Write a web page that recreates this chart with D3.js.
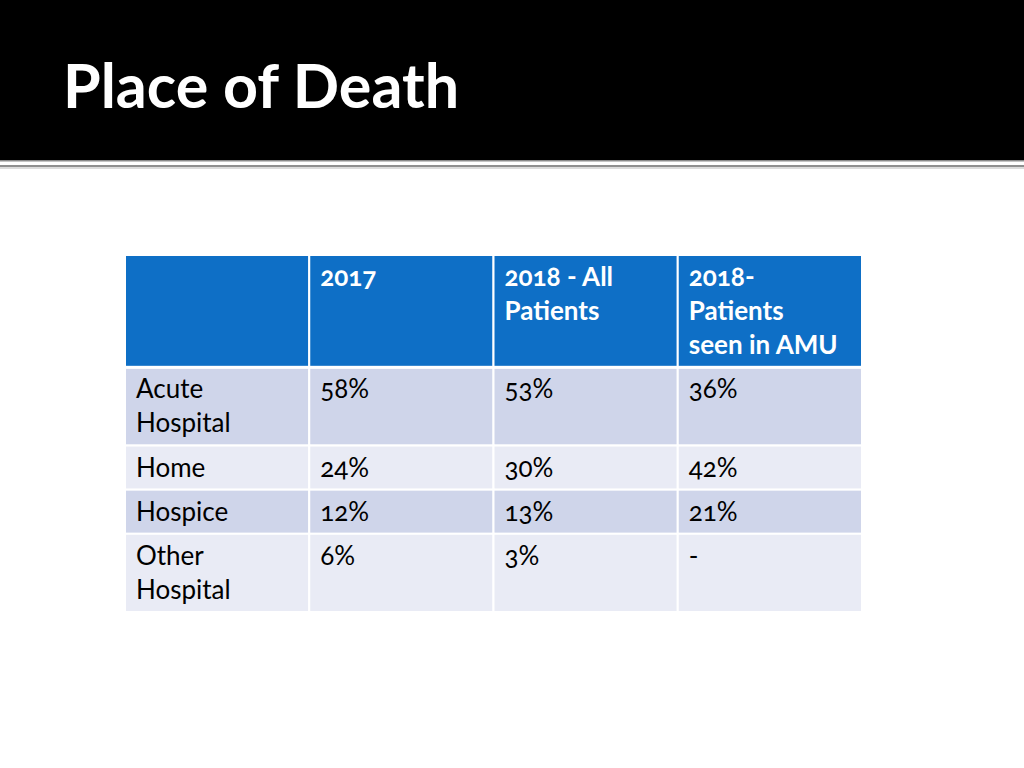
<!DOCTYPE html>
<html><head><meta charset="utf-8">
<script src="https://cdn.jsdelivr.net/npm/d3@7"></script>
<style>
html,body{margin:0;padding:0;background:#fff;}
svg{display:block;}
text{font-family:Lato,"Open Sans",sans-serif;font-feature-settings:"onum";}
</style></head>
<body>
<svg id="c" width="1024" height="768"></svg>
<script>
const title = "Place of Death";
const columns = ["", "2017", "2018 - All\nPatients", "2018-\nPatients\nseen in AMU"];
const categories = ["Acute\nHospital", "Home", "Hospice", "Other\nHospital"];
const v2017 = ["58%", "24%", "12%", "6%"];
const v2018All = ["53%", "30%", "13%", "3%"];
const v2018AMU = ["36%", "42%", "21%", "-"];

const svg = d3.select("#c");
// header band
svg.append("rect").attr("x",0).attr("y",0).attr("width",1024).attr("height",160).attr("fill","#000");
svg.append("rect").attr("x",0).attr("y",160).attr("width",1024).attr("height",1.5).attr("fill","#8a8a8a");
svg.append("rect").attr("x",0).attr("y",165).attr("width",1024).attr("height",2).attr("fill","#8f8f8f");
svg.append("rect").attr("x",0).attr("y",167).attr("width",1024).attr("height",2).attr("fill","#dcdcdc");
svg.append("text").attr("x",63).attr("y",108).attr("fill","#fff")
  .attr("font-size",61).attr("font-weight",700).text(title);

// table data
const rows = [columns].concat(categories.map((c,i)=>[c, v2017[i], v2018All[i], v2018AMU[i]]));
const lineH = 34, basePad = 10;
const heights = rows.map(r => d3.max(r, s => s.split("\n").length) * lineH + basePad);
const tops = [];
let acc = 0; heights.forEach(h => { tops.push(acc); acc += h; });
const y = d3.scaleLinear().domain([0, acc]).range([255, 255 + acc + 1]);
const x = d3.scaleBand().domain(d3.range(4)).range([125, 862]).padding(0);

const fills = ["#0E6FC6", "#CFD5EA", "#E9EBF5", "#CFD5EA", "#E9EBF5"];

const rowG = svg.selectAll("g.row").data(rows).join("g").attr("class","row");
rowG.each(function(r, ri){
  const g = d3.select(this);
  r.forEach((cell, ci) => {
    g.append("rect")
      .attr("x", x(ci)).attr("y", y(tops[ri]))
      .attr("width", x.bandwidth()).attr("height", y(tops[ri] + heights[ri]) - y(tops[ri]))
      .attr("fill", fills[ri]).attr("stroke", "#fff").attr("stroke-width", 2);
    const t = g.append("text")
      .attr("fill", ri===0 ? "#fff" : "#000")
      .attr("font-size", 26)
      .attr("font-weight", ri===0 ? 700 : 400);
    cell.split("\n").forEach((ln, li) => {
      t.append("tspan").attr("x", x(ci) + 11).attr("y", y(tops[ri]) + 31 + li*lineH).text(ln);
    });
  });
});
// thicker line under header
svg.append("rect").attr("x",125).attr("y",y(tops[1])-1.5).attr("width",737).attr("height",3).attr("fill","#fff");
</script>
</body></html>
